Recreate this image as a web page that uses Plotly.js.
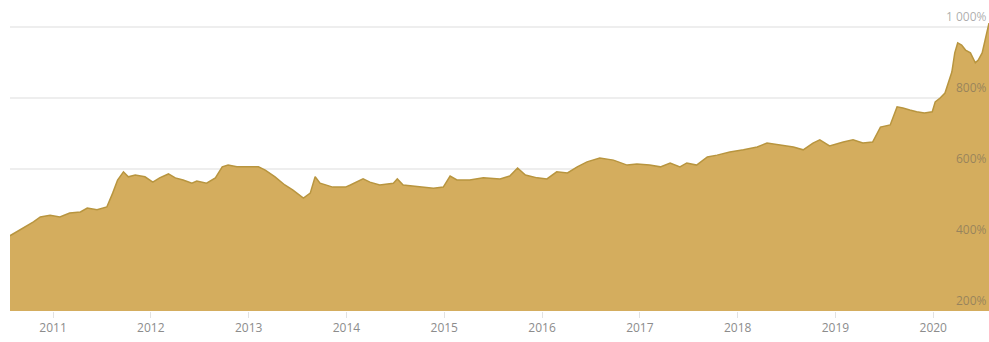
<!DOCTYPE html>
<html>
<head>
<meta charset="utf-8">
<script src="https://cdn.plot.ly/plotly-3.0.1.min.js"></script>
<style>
html,body{margin:0;padding:0;background:#fff;overflow:hidden;}
#chart{width:989px;height:342px;}
</style>
</head>
<body>
<div id="chart"></div>
<script>
// decimal years
var years = [2010.56,2010.80,2010.87,2010.97,2011.07,2011.17,2011.28,2011.35,2011.45,2011.55,
2011.61,2011.66,2011.72,2011.77,2011.84,2011.94,2012.02,2012.09,2012.18,2012.25,
2012.33,2012.42,2012.47,2012.57,2012.66,2012.73,2012.79,2012.88,2013.01,2013.10,
2013.17,2013.27,2013.37,2013.45,2013.56,2013.63,2013.68,2013.73,2013.86,2013.99,
2014.04,2014.17,2014.24,2014.34,2014.48,2014.52,2014.58,2014.75,2014.89,2014.99,
2015.06,2015.13,2015.26,2015.40,2015.57,2015.67,2015.75,2015.83,2015.95,2016.05,
2016.15,2016.26,2016.36,2016.46,2016.59,2016.73,2016.87,2016.97,2017.10,2017.21,
2017.31,2017.41,2017.48,2017.58,2017.69,2017.79,2017.92,2018.06,2018.20,2018.30,
2018.43,2018.57,2018.67,2018.77,2018.84,2018.94,2019.08,2019.18,2019.28,2019.38,
2019.46,2019.56,2019.63,2019.69,2019.76,2019.83,2019.91,2019.99,2020.02,2020.07,
2020.12,2020.15,2020.19,2020.22,2020.25,2020.29,2020.33,2020.38,2020.43,2020.46,
2020.50,2020.53,2020.57];
var values = [412,451,465,470,465,476,479,490,485,493,
532,569,592,578,583,578,563,575,586,575,
569,560,566,560,575,606,611,606,606,606,
597,578,555,541,518,532,578,560,549,549,
555,572,563,555,560,572,555,549,546,549,
580,569,569,575,572,580,603,583,575,572,
592,589,606,620,631,625,611,614,611,606,
617,606,617,611,634,639,648,654,662,673,
668,662,654,673,682,665,676,682,673,676,
718,724,775,772,766,761,758,761,789,800,
814,842,873,927,955,949,935,927,899,907,
927,963,1011];
var tickYears = [2011,2012,2013,2014,2015,2016,2017,2018,2019,2020];
var tickLabels = ['2011','2012','2013','2014','2015','2016','2017','2018','2019','2020'];
var yTicks = [200,400,600,800,1000];
var yTickLabels = ['200%','400%','600%','800%','1 000%'];

var trace = {
  x: years, y: values, type:'scatter', mode:'lines',
  fill:'tozeroy', fillcolor:'#D4AD5E',
  line:{color:'#B8953F', width:1.5, shape:'linear'},
  hoverinfo:'skip'
};

var annotations = yTicks.map(function(v,i){
  return {xref:'paper', yref:'y', x:1, y:v, xanchor:'right', yanchor:'bottom',
    xshift:-1, yshift:1, showarrow:false, borderpad:0, text:yTickLabels[i],
    font:{family:'Open Sans', size:12, color:'rgba(90,90,90,0.5)'}};
});

var layout = {
  width:989, height:342,
  margin:{l:10, r:0, t:0, b:31},
  paper_bgcolor:'#fff', plot_bgcolor:'#fff',
  showlegend:false,
  xaxis:{range:[2010.56,2020.57], tickvals:tickYears, ticktext:tickLabels,
    ticks:'outside', ticklen:6, tickcolor:'#e2e2e2', tickwidth:1,
    showgrid:false, zeroline:false, showline:false,
    tickfont:{family:'Open Sans', size:12, color:'#8c8c8c'}},
  yaxis:{range:[200,1076], tickvals:yTicks, showticklabels:false,
    showgrid:true, gridcolor:'#eeeeee', gridwidth:2, zeroline:false, showline:false},
  annotations:annotations
};
Plotly.newPlot('chart',[trace],layout,{displayModeBar:false, staticPlot:true});
</script>
</body>
</html>
